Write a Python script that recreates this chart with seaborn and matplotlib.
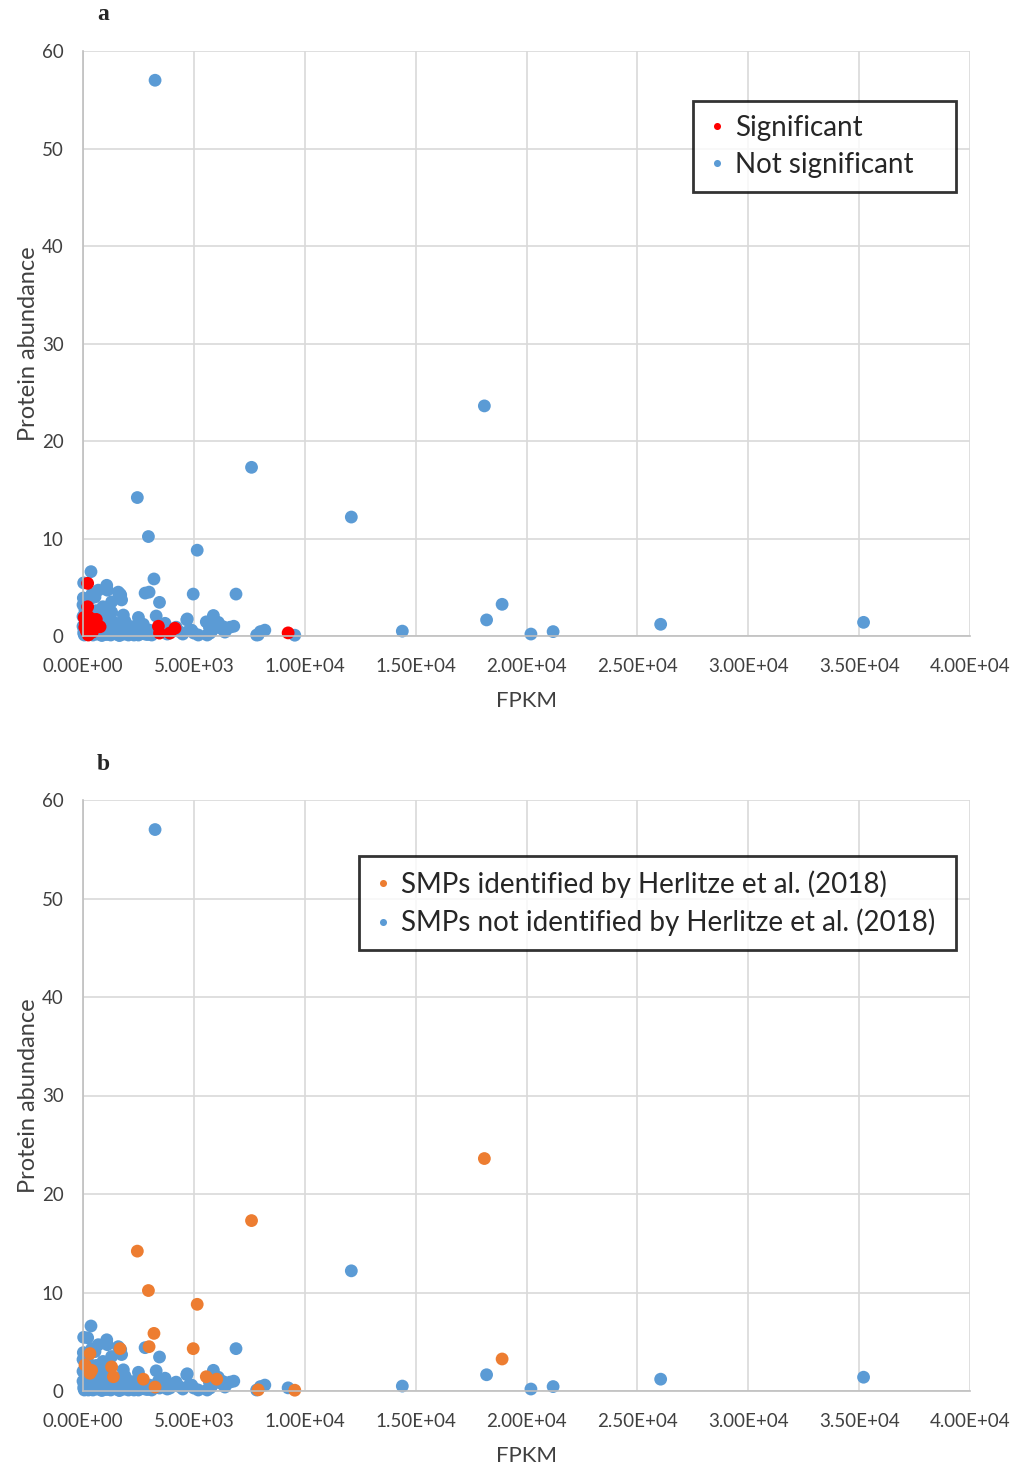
import matplotlib
matplotlib.use("Agg")
import matplotlib.pyplot as plt
import seaborn as sns
import pandas as pd
from matplotlib.ticker import FuncFormatter

# ---- data ----
fpkm = [3250, 18100, 7600, 12100, 2450, 2950, 5150, 3200, 360, 30,
        6900, 4970, 2800, 2980, 3450, 18900, 18200, 14400, 20200, 21200,
        26050, 35200, 9550, 9250, 8000, 8200, 7900, 5880, 6630, 4700,
        3300, 5560, 6030, 3400, 3450, 3920, 4150, 3250, 2720, 1370,
        1290, 315, 390, 90, 315, 1670, 210, 210, 770, 240,
        50, 200, 350, 100, 300, 500, 150, 420, 600, 80,
        1070, 1590, 1700, 690, 540, 1290, 15, 0, 1740, 1820,
        1140, 840, 240, 2200, 2650, 1000, 1500, 2000, 2400, 2800,
        3000, 3600, 3800, 4300, 4500, 4800, 5000, 5600, 5800, 6200,
        6400, 1200, 1600, 800, 500, 100, 1800, 2300, 2600, 600,
        900, 1300, 1700, 1900, 400, 700, 50, 200, 1100, 400,
        5900, 5700, 6100, 6800, 5200, 4200, 3700, 4680, 4900, 4500,
        6320, 5730, 7830, 0, 0, 30, 60, 150, 250, 450,
        650, 850, 1050, 1250, 1450, 1650, 1850, 2050, 2250, 2500,
        2700, 2900, 3100, 1000, 1400, 700, 350, 120, 2100, 2500]
abundance = [57.0, 23.6, 17.3, 12.2, 14.2, 10.2, 8.8, 5.85, 6.6, 5.45,
             4.3, 4.3, 4.4, 4.5, 3.45, 3.25, 1.65, 0.5, 0.2, 0.45,
             1.2, 1.4, 0.08, 0.32, 0.45, 0.6, 0.12, 2.1, 0.9, 1.75,
             2.05, 1.45, 1.2, 1.0, 0.3, 0.3, 0.8, 0.4, 1.2, 1.45,
             2.45, 1.8, 2.1, 2.65, 3.8, 4.3, 5.4, 3.0, 0.95, 0.1,
             1.9, 2.1, 1.8, 1.3, 1.0, 1.5, 0.5, 0.4, 1.7, 0.9,
             5.2, 4.5, 4.2, 4.7, 4.0, 3.5, 3.9, 3.2, 3.7, 2.15,
             2.5, 2.15, 2.3, 0.95, 1.1, 1.6, 1.2, 0.5, 0.3, 0.2,
             0.6, 0.7, 0.2, 0.5, 0.2, 0.6, 0.3, 0.1, 0.5, 0.8,
             0.4, 0.2, 0.1, 0.3, 0.6, 0.2, 0.4, 0.1, 0.6, 2.6,
             3.0, 1.0, 0.8, 1.5, 1.2, 1.4, 0.6, 2.8, 4.7, 4.3,
             1.5, 0.9, 1.4, 1.0, 0.1, 0.9, 1.3, 1.65, 0.6, 0.3,
             0.95, 0.3, 0.1, 2.0, 1.0, 0.3, 0.1, 0.4, 0.15, 0.1,
             0.2, 0.05, 0.15, 0.1, 0.3, 0.05, 0.2, 0.1, 0.25, 0.1,
             0.3, 0.15, 0.1, 0.7, 0.5, 0.6, 2.5, 1.5, 0.7, 1.9]
significant = [0, 0, 0, 0, 0, 0, 0, 0, 0, 0,
               0, 0, 0, 0, 0, 0, 0, 0, 0, 0,
               0, 0, 0, 1, 0, 0, 0, 0, 0, 0,
               0, 0, 0, 1, 1, 1, 1, 0, 0, 0,
               0, 0, 0, 0, 0, 0, 1, 1, 1, 1,
               1, 1, 1, 1, 1, 1, 1, 1, 1, 1] + [0] * 90
herlitze = [0, 1, 1, 0, 1, 1, 1, 1, 0, 0,
            0, 1, 0, 1, 0, 1, 0, 0, 0, 0,
            0, 0, 1, 0, 0, 0, 1, 0, 0, 0,
            0, 1, 1, 0, 0, 0, 0, 1, 1, 1,
            1, 1, 1, 1, 1, 1, 0, 0, 0, 0,
            0, 0, 0, 0, 0, 0, 0, 0, 0, 0] + [0] * 90

sig_labels = ["Significant", "Not significant"]
her_labels = ["SMPs identified by Herlitze et al. (2018)",
              "SMPs not identified by Herlitze et al. (2018)"]
x_ticks = [0, 5000, 10000, 15000, 20000, 25000, 30000, 35000, 40000]
y_ticks = [0, 10, 20, 30, 40, 50, 60]

BLUE = "#5B9BD5"
RED = "#FF0000"
ORANGE = "#ED7D31"

df = pd.DataFrame({"FPKM": fpkm, "Protein abundance": abundance,
                   "sig": significant, "her": herlitze})
df["Significance"] = df["sig"].map({1: sig_labels[0], 0: sig_labels[1]})
df["Herlitze"] = df["her"].map({1: her_labels[0], 0: her_labels[1]})

sns.set_style("white")
plt.rcParams["font.family"] = ["Lato", "DejaVu Sans"]

fig = plt.figure(figsize=(10.16, 14.69), dpi=100)
ax_a = fig.add_axes([83 / 1016, 1 - 636 / 1469, 887 / 1016, 585 / 1469])
ax_b = fig.add_axes([83 / 1016, 1 - 1391 / 1469, 887 / 1016, 591 / 1469])


def style_axis(ax):
    ax.set_xlim(x_ticks[0], x_ticks[-1])
    ax.set_ylim(y_ticks[0], y_ticks[-1])
    ax.set_xticks(x_ticks)
    ax.set_yticks(y_ticks)
    ax.xaxis.set_major_formatter(FuncFormatter(lambda v, p: "{:.2E}".format(v)))
    ax.grid(True, color="#d9d9d9", linewidth=1.2)
    ax.set_axisbelow(True)
    for s in ["top", "right"]:
        ax.spines[s].set_visible(False)
    for s in ["left", "bottom"]:
        ax.spines[s].set_color("#bfbfbf")
        ax.spines[s].set_linewidth(1.2)
    ax.tick_params(length=0, labelsize=13.5, colors="#404040")
    ax.tick_params(axis="x", pad=16)
    ax.tick_params(axis="y", pad=14)
    ax.set_xlabel("FPKM", fontsize=16, color="#404040", labelpad=11)
    ax.set_ylabel("Protein abundance", fontsize=17, color="#404040", labelpad=2)
    for c in ax.collections:
        c.set_clip_on(False)


def add_legend(ax, box):
    h, l = ax.get_legend_handles_labels()
    leg = ax.legend(h, l, loc="upper left", bbox_to_anchor=box, mode="expand",
                    borderaxespad=0, fontsize=20, markerscale=0.55,
                    frameon=True, fancybox=False, edgecolor="black",
                    handletextpad=0.3, borderpad=0.5, labelspacing=0.4,
                    handlelength=0.7)
    leg.get_frame().set_linewidth(2)


# Panel a
da = df.sort_values("sig", kind="stable")
sns.scatterplot(data=da, x="FPKM", y="Protein abundance", hue="Significance",
                hue_order=sig_labels, palette=[RED, BLUE], s=85,
                linewidth=0, ax=ax_a)
style_axis(ax_a)
add_legend(ax_a, (0.6877, 0.9145 - 0.154, 0.2965, 0.154))

# Panel b
db = df.sort_values("her", kind="stable")
sns.scatterplot(data=db, x="FPKM", y="Protein abundance", hue="Herlitze",
                hue_order=her_labels, palette=[ORANGE, BLUE], s=85,
                linewidth=0, ax=ax_b)
style_axis(ax_b)
add_legend(ax_b, (0.3112, 0.905 - 0.152, 0.673, 0.152))

fig.text(103 / 1016, 1 - 15 / 1469, "a", fontsize=17, fontweight="bold",
         family="Liberation Serif", ha="center", va="center")
fig.text(103 / 1016, 1 - 765 / 1469, "b", fontsize=17, fontweight="bold",
         family="Liberation Serif", ha="center", va="center")

fig.savefig("out.png", dpi=100)
